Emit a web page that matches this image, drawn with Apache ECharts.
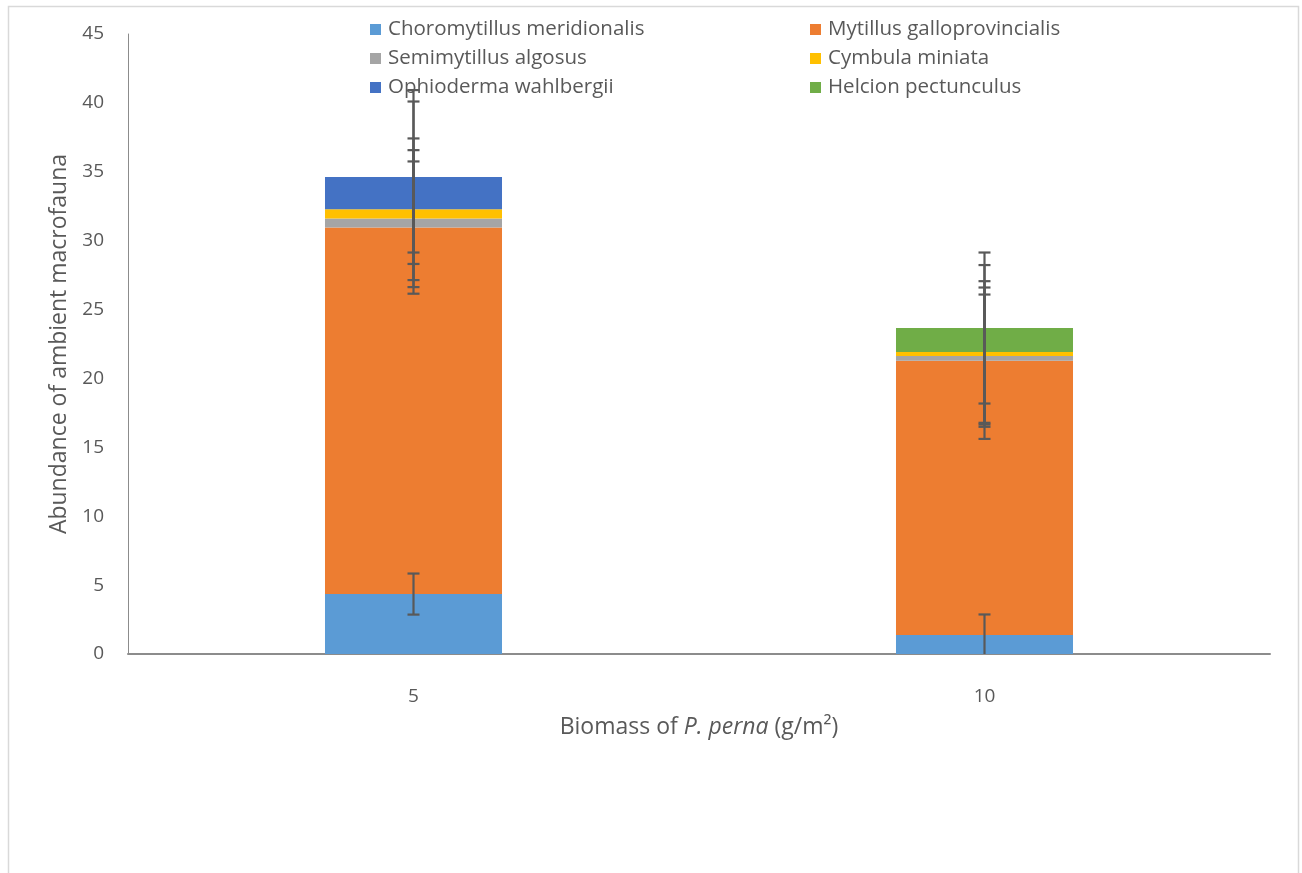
<!DOCTYPE html>
<html>
<head>
<meta charset="utf-8">
<script src="https://cdn.jsdelivr.net/npm/echarts@6/dist/echarts.min.js"></script>
<style>
  html, body { margin: 0; padding: 0; background: #fff; }
  #chart { width: 1302px; height: 873px; }
</style>
</head>
<body>
<div id="chart"></div>
<script>
// Biomass treatments (g/m²)
const categories = ['5', '10'];

// Mean abundance per species, stacked from the bottom up
const choromytillus = [4.35, 1.38];
const mytilus = [26.6, 19.91];
const semimytillus = [0.65, 0.34];
const cymbula = [0.68, 0.29];
const ophioderma = [2.34, 0];
const helcion = [0, 1.74];

// Error (±) for each species at each treatment
const choromytillusErr = [1.49, 1.49];
const mytilusErr = [4.80, 4.80];
const semimytillusErr = [4.97, 4.97];
const cymbulaErr = [5.14, 5.14];
const ophiodermaErr = [6.31, 6.31];
const helcionErr = [5.48, 5.48];

const species = [
  { name: 'Choromytillus meridionalis', values: choromytillus, err: choromytillusErr, color: '#5b9bd5' },
  { name: 'Mytillus galloprovincialis', values: mytilus, err: mytilusErr, color: '#ed7d31' },
  { name: 'Semimytillus algosus', values: semimytillus, err: semimytillusErr, color: '#a5a5a5' },
  { name: 'Cymbula miniata', values: cymbula, err: cymbulaErr, color: '#ffc000' },
  { name: 'Ophioderma wahlbergii', values: ophioderma, err: ophiodermaErr, color: '#4472c4' },
  { name: 'Helcion pectunculus', values: helcion, err: helcionErr, color: '#70ad47' }
];

const FONT = 'Open Sans';
const TEXT = '#595959';

// Error bars sit on the cumulative top of each stacked segment
const errData = [];
const running = categories.map(() => 0);
species.forEach(s => {
  categories.forEach((c, i) => {
    running[i] += s.values[i];
    errData.push([i, running[i], s.err[i]]);
  });
});

const barSeries = species.map(s => ({
  name: s.name,
  type: 'bar',
  stack: 'total',
  barWidth: '31%',
  data: s.values,
  itemStyle: { color: s.color },
  emphasis: { disabled: true }
}));

const errorSeries = {
  type: 'custom',
  z: 10,
  silent: true,
  data: errData,
  encode: { x: 0, y: 1 },
  renderItem: function (params, api) {
    const x = api.value(0);
    const top = api.value(1);
    const e = api.value(2);
    const hi = top + e;
    const loRaw = top - e;
    const lo = Math.max(0, loRaw);
    const pHi = api.coord([x, hi]);
    const pLo = api.coord([x, lo]);
    const half = 6;
    const style = { stroke: '#595959', lineWidth: 2.2 };
    const children = [
      { type: 'line', shape: { x1: pHi[0], y1: pHi[1], x2: pLo[0], y2: pLo[1] }, style },
      { type: 'line', shape: { x1: pHi[0] - half, y1: pHi[1], x2: pHi[0] + half, y2: pHi[1] }, style }
    ];
    if (loRaw >= 0) {
      children.push({ type: 'line', shape: { x1: pLo[0] - half, y1: pLo[1], x2: pLo[0] + half, y2: pLo[1] }, style });
    }
    return { type: 'group', children };
  }
};

const legendCommon = {
  orient: 'vertical',
  itemWidth: 11,
  itemHeight: 11,
  itemGap: 8,
  icon: 'rect',
  selectedMode: false,
  textStyle: { fontFamily: FONT, fontSize: 20.5, color: TEXT, lineHeight: 21, padding: [0, 0, 0, 2] }
};

const chart = echarts.init(document.getElementById('chart'), null, { renderer: 'canvas' });
chart.setOption({
  animation: false,
  backgroundColor: '#ffffff',
  graphic: [{
    type: 'rect',
    shape: { x: 8.5, y: 6.5, width: 1290, height: 900 },
    style: { fill: 'none', stroke: '#d9d9d9', lineWidth: 1.5 },
    silent: true,
    z: -1
  }],
  legend: [
    Object.assign({}, legendCommon, {
      left: 365, top: 14,
      data: [species[0].name, species[2].name, species[4].name]
    }),
    Object.assign({}, legendCommon, {
      left: 805, top: 14,
      data: [species[1].name, species[3].name, species[5].name]
    })
  ],
  grid: { left: 128, right: 32, top: 34, bottom: 219, containLabel: false },
  xAxis: {
    type: 'category',
    data: categories,
    axisLine: { show: true, lineStyle: { color: '#8c8c8c', width: 2 } },
    axisTick: { show: false },
    axisLabel: { fontFamily: FONT, fontSize: 19, color: TEXT, margin: 33 },
    name: 'Biomass of {i|P. perna} (g/m²)',
    nameLocation: 'middle',
    nameGap: 62,
    nameTextStyle: {
      fontFamily: FONT, fontSize: 23, color: TEXT,
      rich: { i: { fontFamily: FONT, fontSize: 23, color: TEXT, fontStyle: 'italic' } }
    }
  },
  yAxis: {
    type: 'value',
    min: 0,
    max: 45,
    interval: 5,
    axisLine: { show: true, lineStyle: { color: '#8c8c8c', width: 1 } },
    axisTick: { show: false },
    splitLine: { show: false },
    axisLabel: { fontFamily: FONT, fontSize: 19, color: TEXT, margin: 24 },
    name: 'Abundance of ambient macrofauna',
    nameLocation: 'middle',
    nameGap: 51,
    nameTextStyle: { fontFamily: FONT, fontSize: 23, color: TEXT }
  },
  series: barSeries.concat([errorSeries])
});
</script>
</body>
</html>
